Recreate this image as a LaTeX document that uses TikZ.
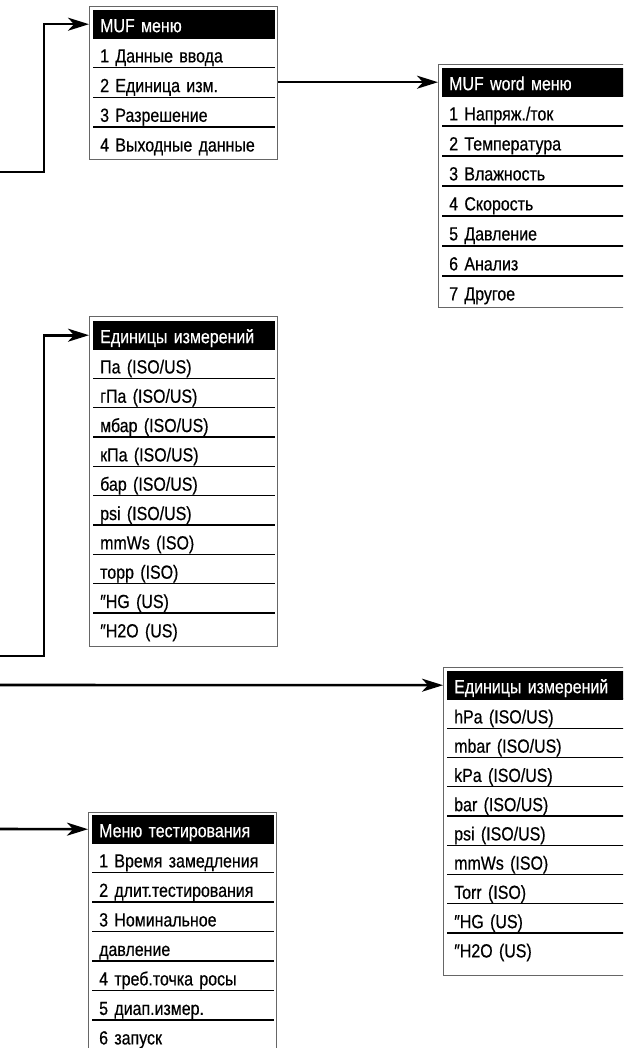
\documentclass[tikz,border=0pt]{standalone}
\usepackage{fontspec}
\setmainfont{Liberation Sans}[FakeStretch=0.84, FakeBold=0.5]
\usetikzlibrary{arrows.meta}
\begin{document}
\begin{tikzpicture}[x=1pt,y=-1pt]
	\tikzset{frame/.style={draw=black!60, line width=0.9pt, minimum width=188pt, anchor=north west, inner sep=0pt},
		head/.style={fill=black, text=white, font=\fontsize{19}{21}\selectfont, minimum width=182pt, text width=168pt, align=left, inner xsep=7pt, inner ysep=0pt, minimum height=28pt, text height=18pt, text depth=2pt, anchor=north west},
		item/.style={font=\fontsize{19}{21}\selectfont, text width=168pt, align=left, inner xsep=7pt, inner ysep=0pt, minimum height=29.2pt, text height=24.2pt, text depth=5pt, anchor=north west},
		sep/.style={line width=1.2pt},
		link/.style={line width=2.6pt, -{Stealth[length=21pt, width=13pt, inset=6pt]}}};
	\useasboundingbox (0,0) rectangle (623,1048);
	\clip (0,0) rectangle (623,1048);
	\node[frame, minimum height=153pt] (fA) at ( 89,  6) {};
	\node[frame, minimum height=243pt] (fB) at (438, 64) {};
	\node[frame, minimum height=330pt] (fC) at ( 89,316) {};
	\node[frame, minimum height=308pt] (fD) at (443,667) {};
	\node[frame, minimum height=260pt] (fE) at ( 88,812) {};
	\node[head] (hA) at ( 93, 10) {MUF меню};
	\node[head] (hB) at (442, 68) {MUF word меню};
	\node[head] (hC) at ( 93,321) {Единицы измерений};
	\node[head] (hD) at (447,671) {Единицы измерений};
	\node[head] (hE) at ( 92,815) {Меню тестирования};
	\foreach \t [count=\i] in {{1 Данные ввода}, {2 Единица изм.}, {3 Разрешение}, {4 Выходные данные}}
		{\node[item] (A\i) at ({93},{38+(\i-1)*29.7}) {\t};
		 \draw[sep] (A\i.north west) -- (A\i.north east);}
	\foreach \t [count=\i] in {{1 Напряж./ток}, {2 Температура}, {3 Влажность}, {4 Скорость}, {5 Давление}, {6 Анализ}, {7 Другое}}
		{\node[item] (B\i) at ({442},{96+(\i-1)*30}) {\t};
		 \draw[sep] (B\i.north west) -- (B\i.north east);}
	\foreach \t [count=\i] in {{Па (ISO/US)}, {гПа (ISO/US)}, {мбар (ISO/US)}, {кПа (ISO/US)}, {бар (ISO/US)}, {psi (ISO/US)}, {mmWs (ISO)}, {торр (ISO)}, {″HG (US)}, {″H2O (US)}}
		{\node[item] (C\i) at ({93},{349+(\i-1)*29.33}) {\t};
		 \draw[sep] (C\i.north west) -- (C\i.north east);}
	\foreach \t [count=\i] in {{hPa (ISO/US)}, {mbar (ISO/US)}, {kPa (ISO/US)}, {bar (ISO/US)}, {psi (ISO/US)}, {mmWs (ISO)}, {Torr (ISO)}, {″HG (US)}, {″H2O (US)}}
		{\node[item] (D\i) at ({447},{699+(\i-1)*29.25}) {\t};
		 \draw[sep] (D\i.north west) -- (D\i.north east);}
	\foreach \t [count=\i] in {{1 Время замедления}, {2 длит.тестирования}, {3 Номинальное}, {давление}, {4 треб.точка росы}, {5 диап.измер.}, {6 запуск}}
		{\node[item] (E\i) at ({92},{843+(\i-1)*29.5}) {\t};
		 \draw[sep] (E\i.north west) -- (E\i.north east);}
	\coordinate (inA) at (0,172);
	\coordinate (inC) at (0,656);
	\coordinate (inD) at (0,685);
	\coordinate (inE) at (0,829);
	\draw[link] (inA) -- ++(44,0) |- (hA -| fA.west);
	\draw[link] (fA.east |- hB) -- (hB -| fB.west);
	\draw[link] (inC) -- ++(44,0) |- (hC -| fC.west);
	\draw[link] (inD) -- (hD -| fD.west);
	\draw[link] (inE) -- (hE -| fE.west);
\end{tikzpicture}
\end{document}
